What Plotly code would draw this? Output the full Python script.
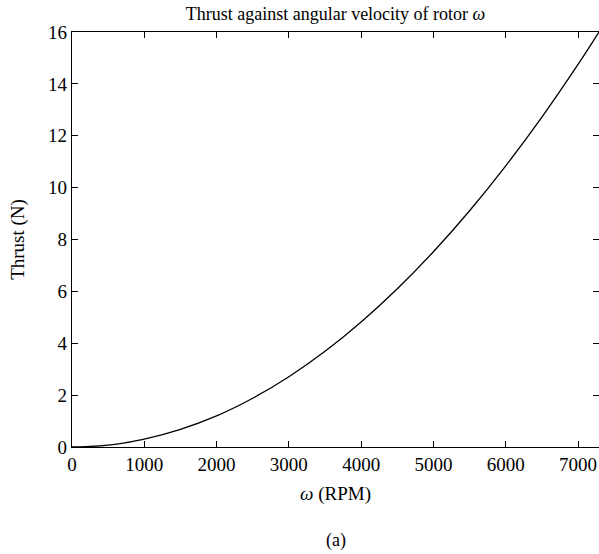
import plotly.graph_objects as go

# Values
omega_rpm = [0, 250, 500, 750, 1000, 1500, 2000, 2500, 3000, 3500, 4000, 4500, 5000, 5500, 6000, 6500, 7000, 7290]
thrust_n = [0, 0.019, 0.075, 0.17, 0.30, 0.68, 1.20, 1.88, 2.71, 3.69, 4.82, 6.10, 7.53, 9.11, 10.84, 12.72, 14.75, 16.0]

x_ticks = [0, 1000, 2000, 3000, 4000, 5000, 6000, 7000]
y_ticks = [0, 2, 4, 6, 8, 10, 12, 14, 16]

FONT = "Liberation Serif"

fig = go.Figure()
fig.add_trace(go.Scatter(
    x=omega_rpm, y=thrust_n, mode="lines",
    line=dict(color="black", width=1.3, shape="spline"),
    showlegend=False, hoverinfo="skip",
))

axis_common = dict(
    showgrid=False, zeroline=False, showline=True, linecolor="black", linewidth=1.3,
    mirror="ticks", ticks="inside", ticklen=6, tickcolor="black", tickwidth=1,
    tickfont=dict(family=FONT, size=19, color="black"),
)

fig.update_layout(
    width=599, height=554,
    margin=dict(l=72, r=0, t=32, b=107),
    paper_bgcolor="white", plot_bgcolor="white",
    font=dict(family=FONT, color="black"),
    title=dict(text="Thrust against angular velocity of rotor <i>ω</i>",
               x=0.5, xanchor="center", xref="paper", y=0.975, yanchor="middle",
               font=dict(family=FONT, size=18, color="black")),
    xaxis=dict(range=[0, 7290], tickvals=x_ticks,
               title=dict(text="<i>ω</i> (RPM)", font=dict(family=FONT, size=19, color="black"), standoff=12),
               **axis_common),
    yaxis=dict(range=[0, 16], tickvals=y_ticks,
               title=dict(text="Thrust (N)", font=dict(family=FONT, size=19, color="black"), standoff=18),
               **axis_common),
    annotations=[dict(text="(a)", x=0.5, xref="paper", y=-(540 - 447) / (447 - 32), yref="paper",
                      yanchor="middle", showarrow=False,
                      font=dict(family=FONT, size=18, color="black"))],
)

fig.write_html("out.html")
